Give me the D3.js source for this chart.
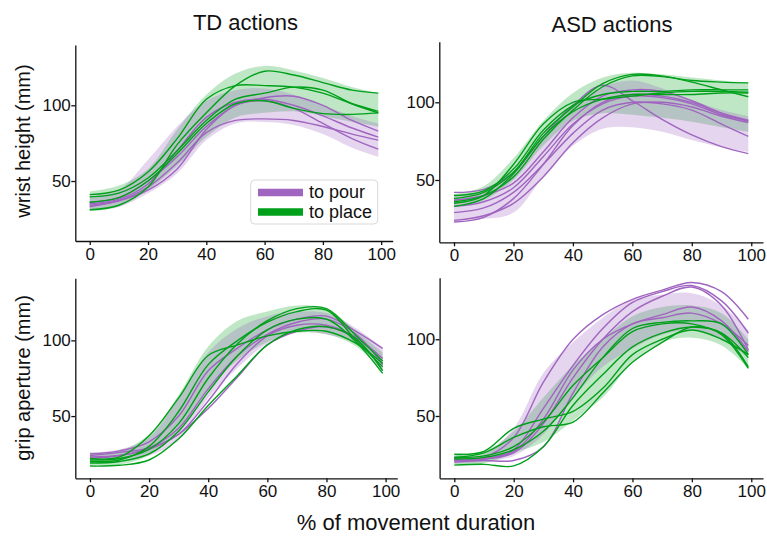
<!DOCTYPE html>
<html lang="en-US">
  <head>
    <meta charset="utf-8">
    <title>TD vs ASD actions</title>
    <style>
      body { margin: 0; background: white; }
      text { font-family: "Liberation Sans", Arial, sans-serif; fill: #111; }
      .tick text { font-size: 17px; }
      .domain, .tick line { stroke: #111; }
    </style>
  </head>
  <body>
  <div id="my_dataviz"></div>

  <script src="https://d3js.org/d3.v7.min.js"></script>
  <script>

    // sample points along the movement (% of duration)
    var xs = [0, 10, 20, 30, 40, 50, 60, 70, 80, 90, 99]
    var xTicks = [0, 20, 40, 60, 80, 100]
    var yTicks = [50, 100]

    // ---- TD, wrist height ----
    var tdWristPour = [
      [36, 39, 50, 66, 86, 100, 105, 106, 100, 90, 83],
      [35, 38, 48, 70, 92, 102, 104, 100, 93, 85, 79],
      [33, 37, 46, 62, 82, 90, 91, 90, 86, 81, 77],
      [34, 37, 44, 58, 84, 100, 103, 98, 88, 78, 71]
    ]
    var tdWristPlace = [
      [31, 34, 46, 74, 95, 113, 122.5, 120, 115, 110, 108],
      [41, 44, 56, 78, 104, 113, 113, 112, 108, 101, 96],
      [39.5, 42, 52, 70, 90, 104, 108, 112, 110, 101, 95],
      [36, 39, 50, 68, 88, 101, 103, 98, 94.5, 94, 95]
    ]
    var tdWristPourMean = [35.5, 38.5, 53, 70.5, 90, 99, 100, 97, 90.5, 82.5, 77]
    var tdWristPourSd = [4.5, 5.5, 11, 15.5, 13, 11, 11, 10, 9.5, 10.5, 11]
    var tdWristPlaceMean = [36.5, 40, 51, 72, 93, 106.5, 110.5, 109.5, 105.5, 100.5, 97]
    var tdWristPlaceSd = [6.5, 7, 7, 12, 14, 14.5, 15.5, 13.5, 12.5, 11.5, 11]

    // ---- ASD, wrist height ----
    var asdWristPour = [
      [42, 44, 55, 78, 98, 111, 101, 89, 79, 71.5, 67],
      [37, 40, 48, 68, 90, 104, 108, 107, 101, 93, 88],
      [29, 32, 42, 60, 80, 95, 100, 99, 95, 86, 78],
      [24, 27, 35, 52, 74, 90, 99, 100, 97, 91, 87],
      [23, 26, 38, 60, 85, 100, 105, 104, 100, 93, 88.5],
      [33, 36, 45, 65, 86, 99, 104, 103, 99, 92, 88]
    ]
    var asdWristPlace = [
      [38, 42, 55, 80, 97, 112, 118, 117, 113, 108, 103.6],
      [36, 40, 52, 76, 95, 110, 117, 116.5, 114, 113, 112.5],
      [40, 43, 57, 82, 98, 105, 107, 107, 108, 108, 108],
      [35, 40, 60, 86, 100, 102, 104, 106, 107, 107, 106.5],
      [33, 38, 54, 78, 94, 102, 105, 105, 105, 106, 106]
    ]
    var asdWristPourMean = [32, 34, 42, 65, 84.5, 96.5, 99, 95, 88.6, 83, 79.5]
    var asdWristPourSd = [8, 9, 13, 13, 12.5, 13.5, 15, 14, 12.9, 12, 11.5]
    var asdWristPlaceMean = [37, 41.5, 57, 80, 97, 104.5, 105.5, 104, 101.75, 99, 96.8]
    var asdWristPlaceSd = [4, 4.5, 7, 8, 9, 11.5, 13.5, 14, 14.25, 15, 15.8]

    // ---- TD, grip aperture ----
    var tdGripPour = [
      [25, 27, 33, 50, 80, 95, 107, 114, 116, 106, 94.7],
      [24, 26, 29, 38, 60, 85, 103, 110, 110, 102, 88],
      [22, 24, 29, 42, 68, 90, 104, 112, 114, 104, 84],
      [23, 24, 28, 38, 55, 76, 97, 106, 109, 101, 80]
    ]
    var tdGripPlace = [
      [22, 23, 37, 62, 90, 97, 103, 106, 106, 98, 84.8],
      [20, 21, 30, 53, 84, 100, 112, 119, 120, 100, 82.6],
      [21, 22, 28, 45, 75, 98, 113, 121, 121, 103, 86.3],
      [19, 20, 25, 40, 66, 90, 107, 114, 114, 99, 78.2],
      [17, 17.5, 21, 35, 57, 77, 97, 107, 109, 101, 80]
    ]
    var tdGripPourMean = [23.5, 25, 30, 48, 77, 95, 107, 112.5, 111, 103, 88.5]
    var tdGripPourSd = [2.5, 3, 6, 14, 15, 13, 9, 6.5, 7, 5, 6.5]
    var tdGripPlaceMean = [21.75, 22.5, 31, 52, 82, 100, 109, 114, 112.5, 101, 86]
    var tdGripPlaceSd = [4.25, 4.5, 7, 12, 14, 13, 10, 9, 8.5, 5, 6]

    // ---- ASD, grip aperture ----
    var asdGripPour = [
      [22, 23, 36, 72, 100, 116, 126, 132, 137, 131, 113],
      [21, 22, 28, 55, 83, 107, 124, 131, 135, 125, 104],
      [22, 22, 26, 45, 75, 100, 118, 128, 134, 122, 93],
      [21, 22, 27, 48, 80, 100, 110, 116, 121, 112, 92],
      [20, 21, 21, 30, 65, 95, 110, 114, 117, 110, 96]
    ]
    var asdGripPlace = [
      [25, 27, 42, 48, 53, 68, 90, 100, 106, 100, 90],
      [23, 26, 36, 43, 46, 65, 85, 98, 108, 104, 88],
      [22, 23, 28, 40, 62, 88, 107, 111, 112, 110, 90],
      [18, 18.5, 17.5, 30, 57, 77, 95, 104, 108, 104, 82],
      [23, 24, 30, 46, 70, 88, 105, 110, 110, 103, 81]
    ]
    var asdGripPourMean = [21.5, 22.5, 33, 58, 80, 98, 110, 116, 118, 111, 97]
    var asdGripPourSd = [2.5, 2.5, 9, 20, 18, 16, 16, 13, 12, 11, 9]
    var asdGripPlaceMean = [22, 23, 33, 47.5, 65, 81, 100, 109.5, 111.5, 106.5, 90.5]
    var asdGripPlaceSd = [4, 4, 7, 14.5, 18, 19, 15, 11.5, 10.5, 10.5, 9.5]

    var pourColor = "#a065c0"
    var placeColor = "#00a01a"

    var width = 767
        height = 536

    var svg = d3.select("#my_dataviz")
      .append("svg")
        .attr("width", width)
        .attr("height", height)

    // panel boxes (pixels) and y range of each subplot
    var panels = [
      {left: 75.3, right: 392.7, top: 45, bottom: 241, ylim: [10.4, 139.8],
       pour: tdWristPour, place: tdWristPlace,
       pourMean: tdWristPourMean, pourSd: tdWristPourSd, placeMean: tdWristPlaceMean, placeSd: tdWristPlaceSd},
      {left: 439.3, right: 763, top: 41.7, bottom: 242.3, ylim: [9.9, 139],
       pour: asdWristPour, place: asdWristPlace,
       pourMean: asdWristPourMean, pourSd: asdWristPourSd, placeMean: asdWristPlaceMean, placeSd: asdWristPlaceSd},
      {left: 75.3, right: 397.3, top: 278.3, bottom: 478.3, ylim: [8.9, 141],
       pour: tdGripPour, place: tdGripPlace,
       pourMean: tdGripPourMean, pourSd: tdGripPourSd, placeMean: tdGripPlaceMean, placeSd: tdGripPlaceSd},
      {left: 439.6, right: 763, top: 277.7, bottom: 478.3, ylim: [9.4, 140.1],
       pour: asdGripPour, place: asdGripPlace,
       pourMean: asdGripPourMean, pourSd: asdGripPourSd, placeMean: asdGripPlaceMean, placeSd: asdGripPlaceSd}
    ]

    var curve = d3.curveCatmullRom.alpha(0.5)

    panels.forEach(function(p) {
      var x = d3.scaleLinear().domain([-4.95, 103.95]).range([0, p.right - p.left])
      var y = d3.scaleLinear().domain(p.ylim).range([p.bottom - p.top, 0])
      var g = svg.append("g").attr("transform", "translate(" + p.left + "," + p.top + ")")

      var band = function(mean, sd) {
        return d3.area().curve(curve)
          .x(function(d, i) { return x(xs[i]) })
          .y0(function(d, i) { return y(mean[i] - sd[i]) })
          .y1(function(d, i) { return y(mean[i] + sd[i]) })(mean)
      }
      var line = d3.line().curve(curve)
        .x(function(d, i) { return x(xs[i]) })
        .y(function(d) { return y(d) })

      // shaded mean +/- sd, place first so pour sits on top
      g.append("path").attr("d", band(p.placeMean, p.placeSd))
        .attr("fill", placeColor).attr("fill-opacity", 0.25)
      g.append("path").attr("d", band(p.pourMean, p.pourSd))
        .attr("fill", pourColor).attr("fill-opacity", 0.27)

      g.selectAll(".pour").data(p.pour).enter().append("path")
        .attr("class", "pour").attr("d", line)
        .attr("fill", "none").attr("stroke", pourColor).attr("stroke-width", 1.4)
      g.selectAll(".place").data(p.place).enter().append("path")
        .attr("class", "place").attr("d", line)
        .attr("fill", "none").attr("stroke", placeColor).attr("stroke-width", 1.4)

      var xAxis = g.append("g").attr("transform", "translate(0," + (p.bottom - p.top) + ")")
        .call(d3.axisBottom(x).tickValues(xTicks).tickSize(4).tickPadding(2.7).tickSizeOuter(0))
      var yAxis = g.append("g")
        .call(d3.axisLeft(y).tickValues(yTicks).tickSize(4).tickPadding(0.5).tickSizeOuter(0))
      xAxis.selectAll(".domain, line").attr("stroke-width", 1.3)
      yAxis.selectAll(".domain, line").attr("stroke-width", 1.3)
      g.selectAll(".tick text").attr("fill", "#111")
    })

    // titles and labels
    svg.append("text").attr("x", 245.5).attr("y", 29.5).attr("text-anchor", "middle")
      .style("font-size", "22px").text("TD actions")
    svg.append("text").attr("x", 612).attr("y", 31.5).attr("text-anchor", "middle")
      .style("font-size", "22px").text("ASD actions")
    svg.append("text").attr("transform", "translate(30,141) rotate(-90)").attr("text-anchor", "middle")
      .style("font-size", "20px").text("wrist height (mm)")
    svg.append("text").attr("transform", "translate(30,378) rotate(-90)").attr("text-anchor", "middle")
      .style("font-size", "20px").text("grip aperture (mm)")
    svg.append("text").attr("x", 416).attr("y", 530).attr("text-anchor", "middle")
      .style("font-size", "22px").text("% of movement duration")

    // legend in the first panel
    var legend = svg.append("g")
    legend.append("rect").attr("x", 250.7).attr("y", 180).attr("width", 127).attr("height", 44)
      .attr("rx", 4).attr("fill", "white").attr("fill-opacity", 0.8)
      .attr("stroke", "#d9d9d9").attr("stroke-width", 1)
    var items = [{label: "to pour", color: pourColor}, {label: "to place", color: placeColor}]
    items.forEach(function(d, i) {
      var cy = 192.5 + i * 19.5
      legend.append("line").attr("x1", 258).attr("x2", 303).attr("y1", cy).attr("y2", cy)
        .attr("stroke", d.color).attr("stroke-width", 7.5)
      legend.append("text").attr("x", 309).attr("y", cy + 5.5)
        .style("font-size", "18px").text(d.label)
    })

</script>
  </body>
</html>
